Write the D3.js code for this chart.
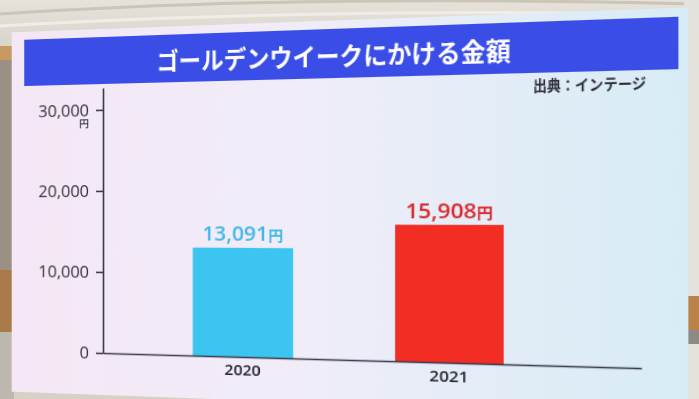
<!DOCTYPE html>
<html>
<head>
<meta charset="utf-8">
<script src="https://cdn.jsdelivr.net/npm/d3@7"></script>
<style>
  html, body { margin: 0; padding: 0; width: 699px; height: 399px; overflow: hidden; background: #d6d0c5; }
  svg { position: absolute; left: 0; top: 0; }
  #screen { transform-origin: 0 0; }
</style>
</head>
<body>
<svg id="room" width="699" height="399"></svg>
<svg id="screen" width="640" height="420"></svg>
<script>
// --- DATA ---
const years = ["2020", "2021"];
const spending = [13091, 15908];
const yTicks = [0, 10000, 20000, 30000];
const barColors = ["#3dc5f1", "#f22d24"];
const labelColors = ["#3fb8e7", "#d92a2e"];
const title = "ゴールデンウイークにかける金額";
const source = "出典：インテージ";
const unit = "円";

// --- PHOTO PERSPECTIVE ---
// the TV screen is shot at an angle: its right side is nearer the camera
const persp = { xr: 103, y0: 213, c: -0.0002 };

function perspectiveMatrix({xr, y0, c}) {
    const m = [
        1 + xr * c, y0 * c, 0, c,
        0, 1, 0, 0,
        0, 0, 1, 0,
        -xr * xr * c, -xr * y0 * c, 0, 1 - xr * c
    ];
    return `matrix3d(${m.join(",")})`;
}

// --- ROOM BEHIND THE SCREEN ---
const room = d3.select("#room");
const roomGrad = room.append("defs").append("linearGradient")
    .attr("id", "ceil").attr("x1", 0).attr("y1", 0).attr("x2", 0).attr("y2", 1);
roomGrad.append("stop").attr("offset", 0).attr("stop-color", "#e6e2da");
roomGrad.append("stop").attr("offset", 1).attr("stop-color", "#d6d1c6");
room.append("rect").attr("width", 699).attr("height", 60).attr("fill", "url(#ceil)");
room.append("path")
    .attr("d", "M0,14 Q300,-6 699,4")
    .attr("fill", "none").attr("stroke", "#cbc5b8").attr("stroke-width", 3);
room.append("path")
    .attr("d", "M0,26 Q300,8 699,14")
    .attr("fill", "none").attr("stroke", "#f0ede6").attr("stroke-width", 3);
// left wall strip
room.append("rect").attr("x", 0).attr("y", 46).attr("width", 14).attr("height", 14).attr("fill", "#c79a62");
room.append("rect").attr("x", 0).attr("y", 60).attr("width", 14).attr("height", 210).attr("fill", "#9a9184");
room.append("rect").attr("x", 0).attr("y", 270).attr("width", 14).attr("height", 62).attr("fill", "#a87a4a");
room.append("rect").attr("x", 0).attr("y", 332).attr("width", 14).attr("height", 67).attr("fill", "#bdb8ae");
// right wall strip
room.append("rect").attr("x", 684).attr("y", 0).attr("width", 15).attr("height", 399).attr("fill", "#e4e1dc");
room.append("rect").attr("x", 684).attr("y", 296).attr("width", 15).attr("height", 34).attr("fill", "#b88248");
room.append("rect").attr("x", 684).attr("y", 330).attr("width", 15).attr("height", 14).attr("fill", "#8d8a86");

// --- SCREEN (flat design space, warped by the perspective) ---
const svg = d3.select("#screen").style("transform", perspectiveMatrix(persp));

const scrGrad = svg.append("defs").append("linearGradient")
    .attr("id", "scr").attr("x1", 0).attr("y1", 0).attr("x2", 1).attr("y2", 0);
scrGrad.append("stop").attr("offset", 0).attr("stop-color", "#f5e7f5");
scrGrad.append("stop").attr("offset", 0.45).attr("stop-color", "#f0edf8");
scrGrad.append("stop").attr("offset", 1).attr("stop-color", "#d7ecf6");

svg.append("rect")
    .attr("x", 10).attr("y", 29).attr("width", 617).attr("height", 366)
    .attr("fill", "url(#scr)");

// title banner
svg.append("rect")
    .attr("x", 23).attr("y", 37).attr("width", 596).attr("height", 47)
    .attr("fill", "#3a4de6");

svg.append("text")
    .attr("x", 318).attr("y", 61)
    .attr("text-anchor", "middle")
    .attr("dominant-baseline", "central")
    .attr("textLength", 324).attr("lengthAdjust", "spacingAndGlyphs")
    .attr("font-family", "'Noto Sans CJK JP', sans-serif")
    .attr("font-size", 24).attr("font-weight", 700)
    .attr("fill", "#ffffff")
    .text(title);

svg.append("text")
    .attr("x", 593).attr("y", 95)
    .attr("text-anchor", "end")
    .attr("dominant-baseline", "central")
    .attr("textLength", 94).attr("lengthAdjust", "spacingAndGlyphs")
    .attr("font-family", "'Noto Sans CJK JP', sans-serif")
    .attr("font-size", 14).attr("font-weight", 700)
    .attr("fill", "#2e2e38")
    .text(source);

// --- SCALES ---
const x = d3.scaleBand()
    .domain(years)
    .range([103, 589])
    .paddingInner(0.494)
    .paddingOuter(0.541)
    .align(0.434);

const y = d3.scaleLinear()
    .domain([0, 32700])
    .range([353, 88]);

const numFont = "'Open Sans', 'Noto Sans CJK JP', sans-serif";

// --- BARS ---
const rows = years.map((yr, i) => ({ year: yr, value: spending[i], i }));

svg.append("g").selectAll("rect")
    .data(rows)
    .join("rect")
    .attr("x", d => x(d.year))
    .attr("y", d => y(d.value))
    .attr("width", x.bandwidth())
    .attr("height", d => y(0) - y(d.value))
    .attr("fill", d => barColors[d.i]);

const fmt = d3.format(",");
const vl = svg.append("g").selectAll("text")
    .data(rows)
    .join("text")
    .attr("x", d => x(d.year) + x.bandwidth() / 2)
    .attr("y", d => y(d.value) - 6.5)
    .attr("text-anchor", "middle")
    .attr("font-family", numFont)
    .attr("font-size", 20).attr("font-weight", 600)
    .attr("fill", d => labelColors[d.i]);
vl.append("tspan").text(d => fmt(d.value));
vl.append("tspan").attr("font-size", 14).attr("font-family", "'Noto Sans CJK JP', sans-serif").text(unit);

// --- AXES ---
const axisColor = "#3b3b4e";

const yAxis = svg.append("g")
    .attr("transform", `translate(103,0)`)
    .call(d3.axisLeft(y).tickValues(yTicks).tickFormat(fmt).tickSize(7).tickSizeOuter(0).tickPadding(7));
yAxis.select(".domain").attr("stroke", axisColor).attr("stroke-width", 1.6);
yAxis.selectAll(".tick line").attr("stroke", axisColor).attr("stroke-width", 1.6);
yAxis.selectAll(".tick text")
    .attr("font-family", numFont)
    .attr("font-size", 16.5).attr("font-weight", 400)
    .attr("fill", "#2f2f3a");

svg.append("text")
    .attr("x", 89).attr("y", y(30000) + 17)
    .attr("text-anchor", "end")
    .attr("font-family", "'Noto Sans CJK JP', sans-serif")
    .attr("font-size", 10).attr("font-weight", 500)
    .attr("fill", "#2f2f3a")
    .text(unit);

const xAxis = svg.append("g")
    .attr("transform", `translate(0,${y(0)})`)
    .call(d3.axisBottom(x).tickSize(0).tickSizeOuter(0));
xAxis.select(".domain").attr("stroke", axisColor).attr("stroke-width", 1.6);
xAxis.selectAll(".tick text")
    .attr("y", 18.5).attr("dy", 0)
    .attr("font-family", numFont)
    .attr("font-size", 15).attr("font-weight", 600)
    .attr("fill", "#25252f");
</script>
</body>
</html>
